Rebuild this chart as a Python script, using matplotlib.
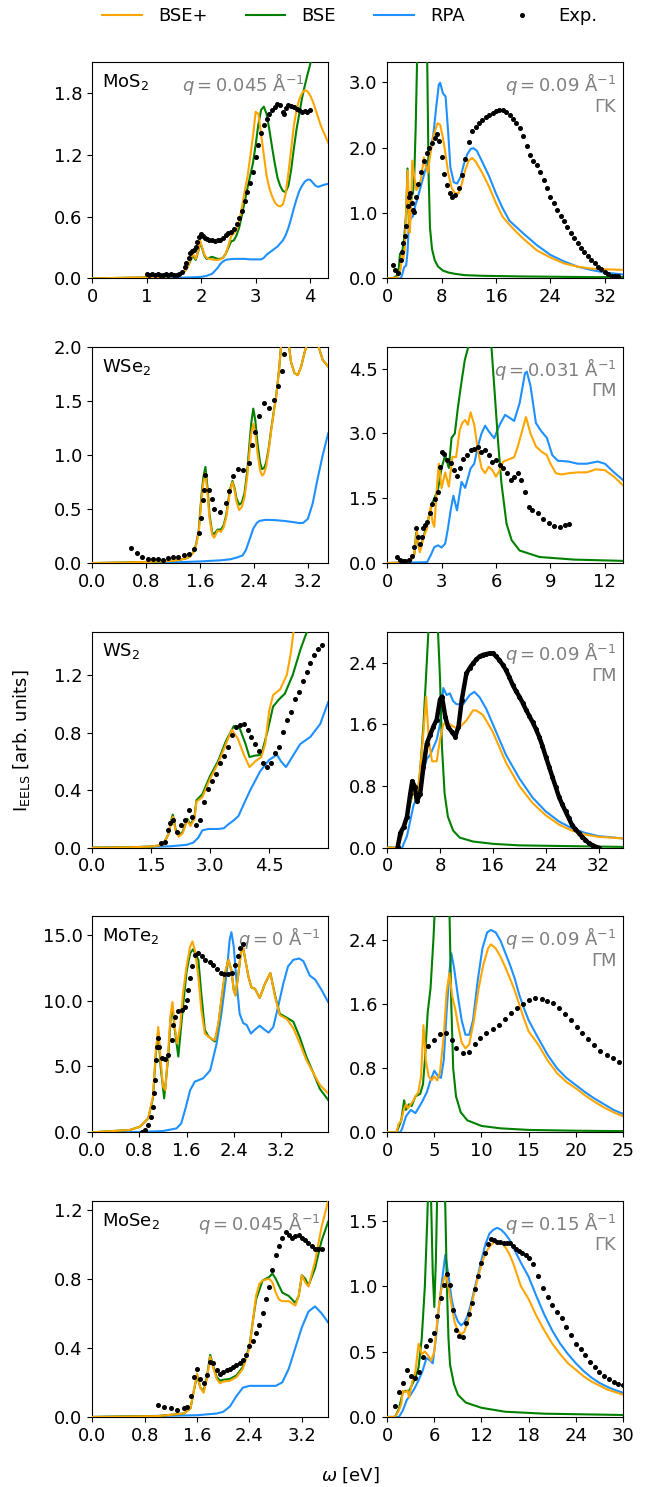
import matplotlib
matplotlib.use("Agg")
import matplotlib.pyplot as plt
from matplotlib.lines import Line2D
import numpy as np

# ---------------- MoS2 left ----------------
MOS2L_EXP_X = [1.0,1.05,1.1,1.15,1.2,1.25,1.3,1.35,1.4,1.45,1.5,1.55,1.6,1.65,1.7,1.73,1.77,1.8,1.83,1.86,1.9,1.93,1.96,2.0,2.03,2.07,2.1,2.15,2.2,2.25,2.3,2.35,2.4,2.45,2.5,2.55,2.6,2.65,2.7,2.75,2.8,2.85,2.9,2.95,3.0,3.05,3.1,3.15,3.2,3.25,3.3,3.35,3.4,3.45,3.5,3.52,3.55,3.6,3.65,3.7,3.75,3.8,3.85,3.9,3.95,4.0]
MOS2L_EXP_Y = [0.04,0.035,0.04,0.03,0.04,0.035,0.03,0.04,0.03,0.04,0.03,0.03,0.04,0.06,0.11,0.15,0.2,0.25,0.27,0.28,0.31,0.35,0.40,0.43,0.41,0.39,0.38,0.37,0.37,0.36,0.37,0.37,0.39,0.42,0.44,0.45,0.48,0.53,0.59,0.66,0.75,0.84,0.93,1.03,1.18,1.30,1.41,1.49,1.55,1.60,1.64,1.67,1.70,1.69,1.62,1.60,1.66,1.69,1.68,1.67,1.65,1.64,1.62,1.63,1.62,1.64]
MOS2L_BSEP_X = [0,0.5,1.0,1.3,1.5,1.6,1.7,1.75,1.8,1.85,1.9,1.95,1.98,2.02,2.06,2.1,2.15,2.2,2.25,2.3,2.35,2.4,2.45,2.5,2.55,2.6,2.65,2.7,2.75,2.8,2.85,2.9,2.95,3.0,3.05,3.1,3.15,3.2,3.25,3.3,3.35,3.4,3.45,3.5,3.55,3.6,3.65,3.7,3.75,3.8,3.85,3.9,3.95,4.0,4.05,4.1,4.15,4.2,4.25,4.33]
MOS2L_BSEP_Y = [0,0.005,0.01,0.015,0.025,0.04,0.07,0.11,0.18,0.24,0.19,0.28,0.37,0.3,0.23,0.2,0.19,0.185,0.18,0.18,0.185,0.2,0.24,0.32,0.41,0.44,0.47,0.56,0.7,0.85,0.99,1.18,1.38,1.62,1.6,1.4,1.2,1.0,0.88,0.8,0.74,0.71,0.70,0.72,0.82,1.02,1.25,1.48,1.64,1.74,1.8,1.83,1.82,1.78,1.72,1.64,1.56,1.48,1.42,1.32]
MOS2L_BSE_X = [0,0.5,1.0,1.3,1.5,1.6,1.7,1.75,1.8,1.85,1.9,1.95,1.98,2.02,2.06,2.1,2.15,2.2,2.25,2.3,2.35,2.4,2.45,2.5,2.55,2.6,2.65,2.7,2.75,2.8,2.85,2.9,2.95,3.0,3.05,3.1,3.15,3.2,3.25,3.3,3.35,3.4,3.45,3.5,3.55,3.6,3.65,3.7,3.75,3.8,3.85,3.9,3.95,4.0,4.05,4.1]
MOS2L_BSE_Y = [0,0.005,0.01,0.015,0.025,0.04,0.07,0.11,0.17,0.22,0.18,0.27,0.35,0.29,0.22,0.19,0.2,0.21,0.2,0.19,0.19,0.2,0.24,0.3,0.36,0.37,0.42,0.5,0.62,0.75,0.88,1.0,1.12,1.3,1.5,1.64,1.67,1.6,1.45,1.28,1.12,0.98,0.9,0.85,0.84,0.9,1.05,1.26,1.45,1.6,1.75,1.87,1.98,2.08,2.2,2.3]
MOS2L_RPA_X = [0,1.0,1.5,1.8,2.0,2.1,2.2,2.3,2.35,2.4,2.45,2.5,2.6,2.7,2.8,2.9,3.0,3.1,3.15,3.2,3.25,3.3,3.35,3.4,3.45,3.5,3.55,3.6,3.65,3.7,3.75,3.8,3.85,3.9,3.95,4.0,4.05,4.1,4.15,4.2,4.25,4.33]
MOS2L_RPA_Y = [0,0.002,0.005,0.01,0.015,0.025,0.045,0.1,0.14,0.165,0.18,0.185,0.19,0.19,0.19,0.185,0.185,0.185,0.2,0.23,0.25,0.27,0.29,0.31,0.34,0.37,0.42,0.49,0.58,0.68,0.77,0.85,0.9,0.94,0.96,0.96,0.93,0.90,0.89,0.90,0.91,0.92]

# ---------------- MoS2 right ----------------
MOS2R_EXP_X = [0.8,1.2,1.6,2.0,2.2,2.4,2.6,2.8,3.0,3.2,3.4,3.6,3.8,4.0,4.3,4.6,5.0,5.4,5.8,6.2,6.6,7.0,7.3,7.6,8.0,8.4,8.8,9.2,9.6,10.0,10.5,11.0,11.5,12.0,12.5,13.0,13.5,14.0,14.5,15.0,15.5,16.0,16.5,17.0,17.5,18.0,18.5,19.0,19.5,20.0,20.5,21.0,21.5,22.0,22.5,23.0,23.5,24.0,24.5,25.0,25.5,26.0,26.5,27.0,27.5,28.0,28.5,29.0,29.5,30.0,30.5,31.0,31.5,32.0,32.5,33.0,33.5,34.0]
MOS2R_EXP_Y = [0.2,0.13,0.09,0.28,0.4,0.54,0.65,0.8,1.1,1.25,1.3,1.15,1.05,1.02,1.25,1.45,1.62,1.8,1.92,2.0,2.07,2.14,2.2,2.1,1.85,1.6,1.42,1.3,1.24,1.27,1.38,1.58,1.82,2.08,2.26,2.32,2.38,2.42,2.46,2.50,2.53,2.56,2.58,2.58,2.55,2.50,2.43,2.38,2.3,2.17,2.03,1.89,1.80,1.73,1.62,1.51,1.38,1.25,1.15,1.05,0.96,0.87,0.78,0.69,0.61,0.54,0.47,0.41,0.34,0.28,0.23,0.18,0.14,0.10,0.07,0.04,0.03,0.03]
MOS2R_BSEP_X = [0,1.0,1.5,1.8,2.0,2.2,2.4,2.6,2.8,2.95,3.05,3.15,3.3,3.5,3.7,4.0,4.3,4.6,5.0,5.4,5.8,6.0,6.3,6.8,7.4,7.8,8.2,8.5,9.0,9.5,10.0,10.5,11.0,11.5,12.0,12.5,13.0,14.0,15.0,16.0,17.0,18.0,19.0,20.0,22.0,24.0,26.0,28.0,30.0,32.0,34.7]
MOS2R_BSEP_Y = [0,0.005,0.02,0.08,0.15,0.38,0.3,0.45,1.0,1.5,1.65,1.2,0.7,1.0,1.8,1.56,1.35,1.40,1.52,1.85,1.66,1.62,1.86,2.17,2.37,2.35,2.15,1.96,1.6,1.38,1.30,1.30,1.45,1.66,1.80,1.84,1.79,1.61,1.40,1.15,0.94,0.82,0.71,0.61,0.43,0.32,0.23,0.18,0.15,0.14,0.13]
MOS2R_BSE_X = [0,1.0,1.5,1.7,1.9,2.2,2.5,2.8,3.0,3.2,3.4,3.6,3.8,4.0,4.2,4.4,4.8,5.2,5.6,5.9,6.1,6.3,6.6,7.0,7.5,8.2,9.0,10.0,11.4,14.0,20.0,25.0,30.0,34.7]
MOS2R_BSE_Y = [0,0.01,0.05,0.15,0.38,0.4,0.6,1.0,1.68,0.84,1.0,1.25,1.3,1.6,2.3,3.3,5.0,6.0,5.0,3.3,1.6,0.78,0.45,0.28,0.18,0.12,0.09,0.07,0.05,0.04,0.03,0.025,0.02,0.02]
MOS2R_RPA_X = [0,2.0,2.2,2.5,2.8,3.0,3.2,3.5,3.8,4.1,4.4,4.8,5.2,5.6,6.0,6.4,6.8,7.2,7.6,7.8,8.2,8.6,9.0,9.3,9.8,10.3,10.8,11.3,11.8,12.3,12.7,13.2,14.0,15.0,16.0,17.0,18.0,20.0,22.0,24.0,26.0,28.0,30.0,32.0,34.7]
MOS2R_RPA_Y = [0,0.0,0.05,0.17,0.2,0.4,0.84,0.92,0.95,1.1,1.2,1.35,1.5,1.65,1.8,1.95,2.2,2.6,2.96,2.99,2.83,2.78,2.2,1.7,1.47,1.45,1.55,1.75,1.9,1.98,1.99,1.95,1.78,1.56,1.30,1.07,0.88,0.69,0.51,0.36,0.26,0.18,0.13,0.09,0.06]

# ---------------- WSe2 left ----------------
WSE2L_EXP_X = [0.58,0.666,0.74,0.83,0.90,0.976,1.05,1.13,1.20,1.28,1.36,1.44,1.51,1.59,1.62,1.65,1.66,1.68,1.73,1.77,1.81,1.90,1.99,2.03,2.09,2.16,2.23,2.32,2.37,2.42,2.48,2.55,2.63,2.70,2.76,2.81,2.85]
WSE2L_EXP_Y = [0.14,0.093,0.06,0.04,0.04,0.04,0.03,0.05,0.055,0.055,0.07,0.086,0.13,0.28,0.42,0.58,0.68,0.82,0.68,0.59,0.50,0.47,0.56,0.67,0.81,0.87,0.86,0.93,1.09,1.21,1.36,1.48,1.44,1.51,1.64,1.78,1.94]
WSE2L_BSEP_X = [0,0.4,0.8,1.0,1.2,1.3,1.4,1.45,1.5,1.54,1.58,1.62,1.65,1.68,1.71,1.74,1.78,1.81,1.86,1.91,1.95,1.99,2.04,2.08,2.11,2.14,2.18,2.22,2.26,2.3,2.33,2.36,2.39,2.42,2.45,2.49,2.52,2.55,2.58,2.62,2.66,2.7,2.73,2.77,2.8,2.85,2.9,2.95,3.0,3.05,3.1,3.15,3.2,3.28,3.36,3.42,3.5]
WSE2L_BSEP_Y = [0,0.004,0.01,0.015,0.022,0.03,0.045,0.06,0.1,0.16,0.28,0.58,0.75,0.83,0.65,0.42,0.26,0.235,0.3,0.29,0.33,0.43,0.65,0.75,0.68,0.57,0.49,0.52,0.61,0.8,1.01,1.2,1.29,1.2,1.03,0.86,0.81,0.83,0.89,1.05,1.25,1.42,1.54,1.78,2.0,2.2,2.1,1.86,1.76,1.74,1.82,1.95,2.05,2.2,2.0,1.88,1.82]
WSE2L_BSE_X = [0,0.4,0.8,1.0,1.2,1.3,1.4,1.45,1.5,1.54,1.58,1.62,1.65,1.68,1.71,1.74,1.78,1.81,1.86,1.91,1.95,1.99,2.04,2.08,2.11,2.14,2.18,2.22,2.26,2.3,2.33,2.36,2.39,2.42,2.45,2.49,2.52,2.55,2.58,2.62,2.66,2.7,2.73,2.77,2.8,2.85,2.9,2.95,3.0,3.05,3.1,3.15,3.2,3.28,3.36,3.42,3.5]
WSE2L_BSE_Y = [0,0.004,0.01,0.015,0.022,0.03,0.045,0.06,0.1,0.17,0.3,0.62,0.8,0.89,0.7,0.45,0.28,0.27,0.31,0.31,0.35,0.45,0.67,0.76,0.7,0.6,0.54,0.56,0.65,0.85,1.08,1.3,1.43,1.32,1.12,0.93,0.87,0.88,0.93,1.07,1.26,1.43,1.55,1.78,2.0,2.2,2.1,1.86,1.76,1.74,1.82,1.95,2.05,2.2,2.0,1.88,1.82]
WSE2L_RPA_X = [0,0.8,1.2,1.6,1.9,2.05,2.14,2.23,2.28,2.33,2.39,2.44,2.48,2.57,2.7,2.85,2.97,3.08,3.13,3.2,3.27,3.34,3.42,3.5]
WSE2L_RPA_Y = [0,0.003,0.006,0.015,0.025,0.035,0.05,0.07,0.12,0.21,0.32,0.37,0.39,0.40,0.398,0.39,0.38,0.37,0.372,0.41,0.55,0.77,1.0,1.2]

# ---------------- WSe2 right ----------------
WSE2R_EXP_X = [0.55,0.7,0.85,1.0,1.2,1.35,1.5,1.6,1.7,1.8,1.9,2.0,2.1,2.2,2.35,2.5,2.65,2.8,2.9,3.0,3.15,3.3,3.5,3.7,3.85,4.0,4.2,4.4,4.6,4.8,5.0,5.2,5.4,5.6,5.8,6.0,6.2,6.4,6.6,6.8,7.0,7.2,7.4,7.6,7.8,8.0,8.3,8.6,8.9,9.2,9.5,9.8,10.0]
WSE2R_EXP_Y = [0.14,0.08,0.04,0.04,0.06,0.16,0.37,0.8,0.6,0.45,0.6,0.8,0.88,0.94,1.15,1.36,1.49,1.65,2.23,2.58,2.52,2.39,2.31,2.15,2.02,2.19,2.42,2.5,2.62,2.63,2.68,2.58,2.62,2.5,2.35,2.39,2.27,2.19,2.08,1.92,2.0,2.08,1.92,1.65,1.30,1.22,1.15,1.03,0.93,0.85,0.84,0.88,0.91]
WSE2R_BSEP_X = [0,1.0,1.3,1.5,1.6,1.65,1.7,1.8,1.9,2.0,2.2,2.3,2.4,2.5,2.6,2.75,2.85,3.0,3.2,3.4,3.6,3.8,4.0,4.15,4.3,4.45,4.6,4.8,5.0,5.2,5.4,5.6,5.8,6.0,6.2,6.4,6.7,7.0,7.2,7.4,7.65,7.9,8.2,8.5,8.8,9.0,9.3,9.6,10.0,10.5,11.0,11.5,12.0,12.5,13.0]
WSE2R_BSEP_Y = [0,0.01,0.05,0.2,0.6,0.75,0.5,0.25,0.4,0.6,0.8,1.1,1.3,0.95,0.84,1.8,2.3,1.73,2.1,1.77,2.46,2.45,3.08,3.25,3.31,3.2,3.49,3.2,2.62,2.2,2.08,2.23,2.15,2.0,2.15,2.35,2.4,2.45,2.7,3.0,3.38,3.0,2.7,2.58,2.5,2.3,2.08,2.05,2.08,2.1,2.1,2.17,2.15,2.0,1.80]
WSE2R_BSE_X = [0,1.0,1.3,1.5,1.6,1.7,1.8,2.0,2.2,2.5,2.8,3.0,3.2,3.4,3.55,3.73,3.9,4.1,4.28,4.47,4.8,5.2,5.5,5.75,5.94,6.12,6.3,6.58,6.86,7.3,8.4,10.3,13.0]
WSE2R_BSE_Y = [0,0.01,0.05,0.2,0.7,0.45,0.3,0.6,0.9,1.4,1.7,2.2,2.5,2.2,2.9,3.0,3.6,4.2,4.7,5.0,5.6,5.8,5.5,5.0,3.86,2.77,1.84,0.91,0.53,0.29,0.14,0.08,0.05]
WSE2R_RPA_X = [0,2.2,2.4,2.6,2.8,3.0,3.2,3.35,3.5,3.65,3.85,4.1,4.3,4.6,4.8,5.0,5.2,5.4,5.6,5.9,6.2,6.5,6.8,7.0,7.3,7.6,7.7,7.9,8.2,8.5,8.8,9.1,9.4,10.0,10.5,11.0,11.6,12.0,12.5,13.0]
WSE2R_RPA_Y = [0,0.02,0.18,0.37,0.41,0.36,0.45,0.8,1.22,1.56,1.22,1.88,1.74,2.19,2.3,2.7,3.0,3.18,3.05,2.89,3.2,3.43,3.35,3.29,3.7,4.40,4.43,4.1,3.24,3.05,2.9,2.5,2.37,2.35,2.3,2.3,2.35,2.3,2.1,1.92]

# ---------------- WS2 left ----------------
WS2L_EXP_X = [1.75,1.85,1.92,1.98,2.05,2.15,2.25,2.35,2.45,2.55,2.65,2.75,2.85,2.95,3.05,3.15,3.25,3.35,3.45,3.55,3.65,3.75,3.85,3.95,4.05,4.15,4.25,4.35,4.45,4.55,4.65,4.75,4.85,4.95,5.05,5.15,5.25,5.35,5.45,5.55,5.65,5.75,5.85]
WS2L_EXP_Y = [0.03,0.04,0.12,0.17,0.19,0.11,0.157,0.19,0.26,0.215,0.16,0.19,0.32,0.41,0.46,0.51,0.585,0.64,0.70,0.78,0.84,0.85,0.86,0.82,0.77,0.72,0.67,0.585,0.56,0.585,0.655,0.70,0.805,0.89,0.94,1.03,1.08,1.16,1.22,1.28,1.34,1.38,1.41]
WS2L_BSEP_X = [0,1.0,1.5,1.8,1.95,2.0,2.05,2.12,2.2,2.3,2.42,2.5,2.6,2.65,2.8,3.0,3.2,3.4,3.55,3.7,3.85,4.0,4.15,4.3,4.4,4.5,4.6,4.78,4.95,5.05,5.12,5.2]
WS2L_BSEP_Y = [0,0.003,0.008,0.02,0.1,0.17,0.215,0.12,0.076,0.1,0.19,0.15,0.2,0.32,0.35,0.48,0.585,0.72,0.82,0.76,0.65,0.56,0.6,0.63,0.72,0.95,1.06,1.1,1.2,1.35,1.5,1.65]
WS2L_BSE_X = [0,1.0,1.5,1.8,1.95,2.0,2.05,2.12,2.2,2.3,2.42,2.5,2.6,2.65,2.8,3.0,3.2,3.4,3.6,3.75,3.9,4.0,4.15,4.3,4.45,4.6,4.75,4.9,5.1,5.3,5.46,5.55]
WS2L_BSE_Y = [0,0.003,0.008,0.02,0.1,0.18,0.23,0.13,0.085,0.11,0.2,0.16,0.21,0.33,0.37,0.5,0.6,0.74,0.845,0.83,0.72,0.63,0.64,0.645,0.8,0.98,1.03,1.07,1.2,1.38,1.5,1.6]
WS2L_RPA_X = [0,1.0,2.0,2.4,2.57,2.7,2.8,2.95,3.2,3.35,3.45,3.6,3.72,3.85,4.02,4.27,4.5,4.7,4.8,4.93,5.12,5.29,5.55,5.8,6.0]
WS2L_RPA_Y = [0,0.003,0.01,0.02,0.035,0.07,0.12,0.13,0.13,0.135,0.16,0.19,0.22,0.3,0.40,0.53,0.61,0.645,0.6,0.56,0.645,0.72,0.77,0.86,1.01]

# ---------------- WS2 right ----------------
WS2R_EXP_X = [1.6,2.0,2.5,3.0,3.5,3.8,4.2,4.5,5.0,5.5,6.0,6.5,7.0,7.5,8.0,8.3,8.8,9.2,9.8,10.3,10.8,11.3,12.0,12.5,13.0,13.5,14.0,14.5,15.0,15.5,16.0,16.5,17.0,17.5,18.0,18.5,19.0,19.5,20.0,20.5,21.0,21.5,22.0,22.5,23.0,23.5,24.0,24.5,25.0,25.5,26.0,26.5,27.0,27.5,28.0,28.5,29.0,29.5,30.0,30.5,31.0,31.5,32.0]
WS2R_EXP_Y = [0.01,0.19,0.27,0.4,0.7,0.86,0.79,0.6,0.70,1.05,1.35,1.46,1.57,1.66,1.92,1.96,1.70,1.57,1.50,1.44,1.57,1.92,2.26,2.33,2.39,2.44,2.48,2.50,2.51,2.52,2.52,2.48,2.43,2.37,2.30,2.21,2.11,2.03,1.96,1.88,1.79,1.71,1.63,1.54,1.44,1.32,1.18,1.05,0.92,0.79,0.66,0.56,0.47,0.38,0.29,0.24,0.19,0.14,0.10,0.06,0.035,0.015,0.0]
WS2R_BSEP_X = [0,1.5,2.0,2.5,3.0,3.5,4.0,4.5,5.0,5.5,5.9,6.3,6.8,7.5,8.0,8.5,9.0,9.8,10.5,11.2,12.0,13.0,13.5,14.5,16.0,18.0,20.0,22.0,24.0,26.0,28.0,30.0,32.0,35.7]
WS2R_BSEP_Y = [0,0.0,0.1,0.25,0.4,0.6,0.75,0.6,1.0,1.5,1.96,1.4,1.12,1.12,1.4,1.6,1.63,1.58,1.55,1.58,1.65,1.78,1.78,1.72,1.5,1.1,0.8,0.58,0.42,0.3,0.22,0.17,0.14,0.12]
WS2R_BSE_X = [0,1.5,2.0,3.0,4.0,4.5,5.0,5.5,6.0,6.3,6.8,7.2,7.7,8.0,8.3,8.7,9.2,10.0,11.0,13.0,16.0,20.0,35.7]
WS2R_BSE_Y = [0,0.0,0.1,0.4,0.75,0.6,1.0,1.6,2.4,2.9,3.5,3.4,2.8,2.2,1.3,0.7,0.4,0.22,0.13,0.08,0.05,0.03,0.01]
WS2R_RPA_X = [0,2.3,2.5,3.0,3.5,4.0,4.5,5.0,5.5,6.0,6.5,7.0,7.5,8.0,8.5,9.0,9.5,10.0,10.5,11.5,12.5,13.2,14.0,15.0,16.0,18.0,20.0,22.0,24.0,26.0,28.0,30.0,32.0,35.7]
WS2R_RPA_Y = [0,0.0,0.05,0.15,0.35,0.55,0.65,0.9,1.0,1.15,1.2,1.3,1.4,1.6,2.07,1.98,2.0,1.9,1.86,1.86,1.98,2.02,1.95,1.8,1.6,1.2,0.9,0.65,0.47,0.34,0.25,0.19,0.15,0.12]

# ---------------- MoTe2 left ----------------
MOTE2L_EXP_X = [0.85,0.90,0.95,0.995,1.03,1.046,1.063,1.08,1.10,1.11,1.136,1.176,1.23,1.29,1.345,1.37,1.41,1.46,1.515,1.566,1.60,1.63,1.656,1.696,1.74,1.79,1.854,1.92,1.99,2.05,2.11,2.18,2.24,2.31,2.37,2.42,2.47,2.51,2.56]
MOTE2L_EXP_Y = [0.0,0.18,0.56,1.19,1.95,2.96,3.97,5.49,6.5,7.14,6.5,5.62,5.54,5.87,7.0,8.15,8.73,9.24,9.29,9.54,10.05,10.8,11.7,12.6,13.5,13.6,13.4,13.1,12.96,12.7,12.4,12.1,12.0,12.0,12.1,12.7,13.4,13.97,14.3]
MOTE2L_BSEP_X = [0,0.64,0.81,0.95,1.03,1.08,1.12,1.16,1.2,1.24,1.29,1.33,1.36,1.40,1.44,1.49,1.54,1.6,1.66,1.7,1.74,1.8,1.85,1.91,1.97,2.02,2.08,2.14,2.19,2.25,2.31,2.36,2.4,2.43,2.48,2.52,2.56,2.6,2.65,2.7,2.76,2.84,2.93,3.02,3.1,3.18,3.3,3.41,3.52,3.63,3.75,3.86,4.0]
MOTE2L_BSEP_Y = [0,0.18,0.43,1.06,2.7,6.25,8.0,5.5,3.5,3.2,6.25,9.0,9.9,8.0,6.75,8.0,10.55,12.6,14.1,14.5,13.85,11.8,9.3,7.5,7.27,7.1,7.0,8.3,10.05,12.1,13.1,12.3,10.8,10.4,12.1,13.6,14.0,13.0,11.8,11.0,10.9,10.2,11.3,12.1,10.3,8.9,8.6,7.9,6.75,5.5,4.5,3.6,2.96]
MOTE2L_BSE_X = [0,0.64,0.81,0.95,1.03,1.08,1.12,1.16,1.22,1.29,1.33,1.36,1.40,1.46,1.54,1.6,1.66,1.71,1.8,1.85,1.91,1.97,2.02,2.08,2.14,2.19,2.25,2.31,2.36,2.4,2.43,2.48,2.52,2.56,2.6,2.65,2.7,2.76,2.84,2.93,3.02,3.1,3.18,3.3,3.41,3.52,3.63,3.75,3.86,4.0]
MOTE2L_BSE_Y = [0,0.18,0.43,1.06,2.6,6.0,7.6,5.0,2.58,5.8,8.7,9.5,7.8,5.75,9.6,12.2,13.6,13.9,13.1,10.5,7.77,7.3,7.1,6.9,8.2,10.0,12.0,13.1,12.3,10.8,10.4,12.1,13.6,14.0,13.0,11.8,11.0,10.9,10.2,11.3,12.1,10.4,9.0,8.7,8.4,7.2,5.75,4.5,3.3,2.46]
MOTE2L_RPA_X = [0,0.8,1.2,1.43,1.51,1.59,1.66,1.74,1.88,2.0,2.11,2.19,2.28,2.33,2.36,2.4,2.45,2.5,2.56,2.62,2.69,2.76,2.84,2.92,2.99,3.07,3.15,3.24,3.32,3.41,3.51,3.58,3.69,3.78,3.89,4.0]
MOTE2L_RPA_Y = [0,0.03,0.1,0.3,0.68,1.95,3.2,3.85,4.1,4.7,6.75,9.0,12.1,14.6,15.2,14.1,11.3,9.0,8.3,8.15,7.5,7.8,8.1,7.8,7.57,8.0,9.5,11.3,12.6,13.1,13.2,13.0,11.9,11.6,10.8,9.9]

# ---------------- MoTe2 right ----------------
MOTE2R_EXP_X = [4.31,4.98,5.58,6.22,6.86,7.35,7.99,8.66,9.29,9.89,10.53,11.24,11.87,12.51,13.14,13.78,14.42,15.05,15.72,16.36,16.96,17.6,18.23,18.87,19.47,20.07,20.67,21.31,21.94,22.54,23.25,23.89,24.59]
MOTE2R_EXP_Y = [1.085,1.156,1.227,1.248,1.156,1.05,0.997,1.01,1.11,1.185,1.24,1.29,1.34,1.415,1.49,1.55,1.61,1.65,1.68,1.665,1.645,1.615,1.56,1.48,1.40,1.32,1.24,1.165,1.09,1.02,0.97,0.93,0.885]
MOTE2R_BSEP_X = [0,1.0,1.2,1.5,1.8,2.0,2.2,2.5,2.8,3.0,3.3,3.6,3.85,4.1,4.4,4.7,5.0,5.3,5.6,6.0,6.3,6.6,6.9,7.2,7.5,7.9,8.3,8.7,9.2,9.7,10.2,10.7,11.0,11.5,12.0,12.5,13.0,13.5,14.0,14.5,15.0,16.0,17.0,18.0,19.0,20.0,21.0,22.0,23.0,24.0,25.0]
MOTE2R_BSEP_Y = [0,0.0,0.1,0.15,0.3,0.35,0.3,0.35,0.4,0.45,0.5,0.7,1.34,0.9,0.7,0.65,0.7,0.65,0.75,1.2,1.75,1.99,1.7,1.55,1.35,1.12,1.05,1.1,1.4,1.8,2.1,2.3,2.35,2.3,2.2,2.07,1.93,1.78,1.6,1.42,1.26,1.1,0.9,0.74,0.63,0.55,0.46,0.38,0.31,0.25,0.2]
MOTE2R_BSE_X = [0,1.0,1.5,1.8,2.0,2.3,2.6,3.0,3.5,3.8,4.0,4.3,4.6,4.9,5.1,5.6,6.2,6.6,6.8,7.0,7.3,7.8,8.5,10.0,12.0,15.0,20.0,25.0]
MOTE2R_BSE_Y = [0,0.0,0.15,0.4,0.28,0.35,0.33,0.45,0.48,0.6,0.9,1.5,1.8,2.4,2.9,3.6,3.8,2.8,1.6,0.8,0.45,0.25,0.15,0.08,0.05,0.03,0.02,0.015]
MOTE2R_RPA_X = [0,1.4,1.6,2.0,2.5,3.0,3.3,3.7,4.2,4.6,5.0,5.4,5.7,6.0,6.3,6.6,6.8,7.1,7.5,7.9,8.3,8.7,9.1,9.6,10.1,10.6,11.0,11.5,12.0,12.5,13.0,13.5,14.0,14.5,15.0,16.0,17.0,18.0,19.0,20.0,21.0,22.0,23.0,24.0,25.0]
MOTE2R_RPA_Y = [0,0.0,0.05,0.2,0.28,0.24,0.3,0.38,0.5,0.65,0.77,0.7,0.68,0.9,1.5,2.0,2.24,2.05,1.7,1.4,1.22,1.22,1.4,1.9,2.3,2.5,2.53,2.5,2.4,2.25,2.1,1.93,1.72,1.55,1.4,1.18,0.97,0.8,0.68,0.59,0.5,0.42,0.35,0.28,0.23]

# ---------------- MoSe2 left ----------------
MOSE2L_EXP_X = [1.0,1.1,1.2,1.3,1.4,1.45,1.5,1.55,1.6,1.65,1.7,1.75,1.8,1.85,1.9,1.95,2.0,2.05,2.1,2.15,2.2,2.25,2.3,2.35,2.4,2.45,2.5,2.55,2.6,2.65,2.7,2.75,2.8,2.85,2.9,2.95,3.0,3.05,3.1,3.15,3.2,3.25,3.3,3.35,3.4,3.45,3.5]
MOSE2L_EXP_Y = [0.07,0.06,0.05,0.04,0.05,0.06,0.12,0.23,0.28,0.22,0.195,0.24,0.32,0.31,0.27,0.25,0.26,0.27,0.28,0.29,0.30,0.31,0.33,0.36,0.41,0.44,0.485,0.53,0.60,0.68,0.755,0.85,0.94,0.99,1.035,1.07,1.055,1.035,1.045,1.055,1.035,1.025,1.005,0.99,0.97,0.97,0.97]
MOSE2L_BSEP_X = [0,1.0,1.4,1.5,1.55,1.6,1.65,1.7,1.75,1.8,1.85,1.9,1.95,2.0,2.1,2.2,2.3,2.4,2.45,2.5,2.55,2.6,2.7,2.75,2.8,2.85,2.9,3.0,3.1,3.15,3.2,3.25,3.3,3.4,3.5,3.6]
MOSE2L_BSEP_Y = [0,0.005,0.02,0.05,0.15,0.25,0.17,0.14,0.22,0.35,0.28,0.22,0.195,0.205,0.21,0.23,0.28,0.40,0.55,0.70,0.77,0.79,0.80,0.78,0.72,0.68,0.67,0.67,0.645,0.70,0.82,0.78,0.755,0.9,1.1,1.25]
MOSE2L_BSE_X = [0,1.0,1.4,1.5,1.55,1.6,1.65,1.7,1.75,1.8,1.85,1.9,1.95,2.0,2.1,2.2,2.3,2.4,2.45,2.5,2.6,2.7,2.75,2.8,2.9,3.0,3.1,3.15,3.2,3.25,3.3,3.4,3.5,3.6]
MOSE2L_BSE_Y = [0,0.005,0.02,0.05,0.15,0.24,0.17,0.15,0.23,0.36,0.29,0.23,0.21,0.215,0.22,0.24,0.29,0.41,0.55,0.68,0.79,0.81,0.83,0.80,0.72,0.70,0.66,0.70,0.82,0.80,0.76,0.86,1.02,1.13]
MOSE2L_RPA_X = [0,1.6,1.9,2.0,2.1,2.2,2.3,2.4,2.6,2.8,2.9,3.0,3.1,3.2,3.3,3.4,3.5,3.6]
MOSE2L_RPA_Y = [0,0.01,0.02,0.03,0.06,0.12,0.17,0.18,0.18,0.18,0.2,0.28,0.4,0.52,0.61,0.64,0.6,0.547]

# ---------------- MoSe2 right ----------------
MOSE2R_EXP_X = [1.0,1.5,2.0,2.5,3.0,3.5,4.0,4.5,5.0,5.5,6.0,6.4,6.8,7.2,7.6,8.0,8.4,8.8,9.2,9.6,10.0,10.4,10.8,11.2,11.6,12.0,12.4,12.8,13.2,13.6,14.0,14.4,14.8,15.2,15.6,16.0,16.4,16.8,17.2,17.6,18.0,18.6,19.2,19.8,20.4,21.0,21.6,22.2,22.8,23.4,24.0,24.6,25.2,25.8,26.4,27.0,27.6,28.2,28.8,29.4,30.0]
MOSE2R_EXP_Y = [0.08,0.19,0.26,0.36,0.31,0.30,0.345,0.46,0.54,0.59,0.64,0.77,0.91,1.01,1.09,1.01,0.82,0.665,0.62,0.61,0.72,0.79,0.87,0.98,1.08,1.18,1.25,1.32,1.36,1.355,1.34,1.34,1.33,1.33,1.33,1.31,1.28,1.27,1.25,1.235,1.215,1.17,1.08,0.985,0.915,0.857,0.805,0.754,0.69,0.63,0.56,0.517,0.47,0.42,0.384,0.345,0.315,0.29,0.27,0.25,0.243]
MOSE2R_BSEP_X = [0,1.0,1.5,1.8,2.0,2.3,2.6,2.8,3.2,3.6,4.0,4.4,4.8,5.2,5.6,6.0,6.4,6.8,7.2,7.5,7.8,8.2,8.6,9.0,9.4,9.8,10.2,10.6,11.0,11.5,12.0,12.5,13.0,13.5,14.0,14.5,15.0,15.5,16.0,17.0,17.5,18.0,19.0,20.0,21.0,22.0,23.0,24.0,25.0,26.0,27.0,28.0,29.0,30.0]
MOSE2R_BSEP_Y = [0,0.0,0.05,0.1,0.2,0.19,0.2,0.15,0.27,0.35,0.56,0.48,0.5,0.47,0.43,0.5,0.75,0.95,1.05,1.09,0.99,0.85,0.72,0.66,0.63,0.65,0.72,0.82,0.93,1.05,1.17,1.25,1.30,1.33,1.34,1.33,1.3,1.25,1.18,1.0,0.95,0.9,0.77,0.66,0.56,0.48,0.41,0.36,0.31,0.27,0.24,0.21,0.19,0.17]
MOSE2R_BSE_X = [0,1.0,1.5,2.0,2.4,2.8,3.2,3.6,4.0,4.4,4.8,5.1,5.3,5.5,5.8,6.0,6.2,6.4,6.8,7.2,7.4,7.6,7.8,8.0,8.5,9.0,10.0,12.0,15.0,20.0,30.0]
MOSE2R_BSE_Y = [0,0.0,0.06,0.19,0.2,0.2,0.25,0.3,0.38,0.6,1.0,1.5,1.9,1.9,1.1,0.84,1.2,1.8,2.2,2.0,1.6,1.0,0.6,0.4,0.25,0.17,0.11,0.07,0.04,0.025,0.015]
MOSE2R_RPA_X = [0,1.5,2.0,2.5,3.0,3.5,4.0,4.5,5.0,5.5,5.8,6.2,6.6,7.0,7.4,7.8,8.2,8.6,9.0,9.4,9.8,10.2,10.6,11.0,11.5,12.0,12.5,13.0,13.5,14.0,14.5,15.0,15.5,16.0,17.0,18.0,19.0,20.0,21.0,22.0,23.0,24.0,25.0,26.0,27.0,28.0,29.0,30.0]
MOSE2R_RPA_Y = [0,0.0,0.05,0.13,0.17,0.22,0.28,0.35,0.45,0.43,0.41,0.6,0.85,1.05,1.24,1.08,0.9,0.79,0.73,0.70,0.72,0.77,0.85,0.95,1.07,1.2,1.32,1.40,1.43,1.445,1.43,1.4,1.36,1.3,1.18,1.07,0.92,0.78,0.66,0.56,0.48,0.41,0.35,0.30,0.26,0.23,0.205,0.185]

# ---------------- panel settings ----------------
MATERIALS = ["MoS$_2$", "WSe$_2$", "WS$_2$", "MoTe$_2$", "MoSe$_2$"]
LEFT_Q = ["$q = 0.045$ Å$^{-1}$", None, None, "$q = 0$ Å$^{-1}$", "$q = 0.045$ Å$^{-1}$"]
RIGHT_Q = ["$q = 0.09$ Å$^{-1}$\nΓK", "$q = 0.031$ Å$^{-1}$\nΓM", "$q = 0.09$ Å$^{-1}$\nΓM",
           "$q = 0.09$ Å$^{-1}$\nΓM", "$q = 0.15$ Å$^{-1}$\nΓK"]

LEFT_XLIM = [4.33, 3.5, 6.0, 4.0, 3.6]
LEFT_YLIM = [2.1, 2.0, 1.5, 16.4, 1.25]
RIGHT_XLIM = [34.7, 13.0, 35.7, 25.0, 30.0]
RIGHT_YLIM = [3.3, 5.0, 2.8, 2.7, 1.65]

LEFT_XTICKS = [[0, 1, 2, 3, 4], [0, 0.8, 1.6, 2.4, 3.2], [0, 1.5, 3.0, 4.5],
               [0, 0.8, 1.6, 2.4, 3.2], [0, 0.8, 1.6, 2.4, 3.2]]
LEFT_YTICKS = [[0, 0.6, 1.2, 1.8], [0, 0.5, 1.0, 1.5, 2.0], [0, 0.4, 0.8, 1.2],
               [0, 5, 10, 15], [0, 0.4, 0.8, 1.2]]
RIGHT_XTICKS = [[0, 8, 16, 24, 32], [0, 3, 6, 9, 12], [0, 8, 16, 24, 32],
                [0, 5, 10, 15, 20, 25], [0, 6, 12, 18, 24, 30]]
RIGHT_YTICKS = [[0, 1, 2, 3], [0, 1.5, 3.0, 4.5], [0, 0.8, 1.6, 2.4],
                [0, 0.8, 1.6, 2.4], [0, 0.5, 1.0, 1.5]]

LEFT_DATA = [
    (MOS2L_EXP_X, MOS2L_EXP_Y, MOS2L_BSEP_X, MOS2L_BSEP_Y, MOS2L_BSE_X, MOS2L_BSE_Y, MOS2L_RPA_X, MOS2L_RPA_Y),
    (WSE2L_EXP_X, WSE2L_EXP_Y, WSE2L_BSEP_X, WSE2L_BSEP_Y, WSE2L_BSE_X, WSE2L_BSE_Y, WSE2L_RPA_X, WSE2L_RPA_Y),
    (WS2L_EXP_X, WS2L_EXP_Y, WS2L_BSEP_X, WS2L_BSEP_Y, WS2L_BSE_X, WS2L_BSE_Y, WS2L_RPA_X, WS2L_RPA_Y),
    (MOTE2L_EXP_X, MOTE2L_EXP_Y, MOTE2L_BSEP_X, MOTE2L_BSEP_Y, MOTE2L_BSE_X, MOTE2L_BSE_Y, MOTE2L_RPA_X, MOTE2L_RPA_Y),
    (MOSE2L_EXP_X, MOSE2L_EXP_Y, MOSE2L_BSEP_X, MOSE2L_BSEP_Y, MOSE2L_BSE_X, MOSE2L_BSE_Y, MOSE2L_RPA_X, MOSE2L_RPA_Y),
]
RIGHT_DATA = [
    (MOS2R_EXP_X, MOS2R_EXP_Y, MOS2R_BSEP_X, MOS2R_BSEP_Y, MOS2R_BSE_X, MOS2R_BSE_Y, MOS2R_RPA_X, MOS2R_RPA_Y),
    (WSE2R_EXP_X, WSE2R_EXP_Y, WSE2R_BSEP_X, WSE2R_BSEP_Y, WSE2R_BSE_X, WSE2R_BSE_Y, WSE2R_RPA_X, WSE2R_RPA_Y),
    (WS2R_EXP_X, WS2R_EXP_Y, WS2R_BSEP_X, WS2R_BSEP_Y, WS2R_BSE_X, WS2R_BSE_Y, WS2R_RPA_X, WS2R_RPA_Y),
    (MOTE2R_EXP_X, MOTE2R_EXP_Y, MOTE2R_BSEP_X, MOTE2R_BSEP_Y, MOTE2R_BSE_X, MOTE2R_BSE_Y, MOTE2R_RPA_X, MOTE2R_RPA_Y),
    (MOSE2R_EXP_X, MOSE2R_EXP_Y, MOSE2R_BSEP_X, MOSE2R_BSEP_Y, MOSE2R_BSE_X, MOSE2R_BSE_Y, MOSE2R_RPA_X, MOSE2R_RPA_Y),
]

C_BSEP = "orange"
C_BSE = "green"
C_RPA = "dodgerblue"
FS = 13

plt.rcParams["font.family"] = ["DejaVu Sans"]
plt.rcParams["mathtext.fontset"] = "dejavusans"

fig = plt.figure(figsize=(6.47, 14.87), dpi=100)
gs = fig.add_gridspec(5, 2, left=0.1425, right=0.963, top=0.958, bottom=0.0471,
                      hspace=0.318, wspace=0.25)


def draw(ax, data, dense=False):
    ex, ey, px, py, bx, by, rx, ry = data
    ax.plot(rx, ry, color=C_RPA, lw=1.5, zorder=2)
    ax.plot(bx, by, color=C_BSE, lw=1.5, zorder=3)
    ax.plot(px, py, color=C_BSEP, lw=1.5, zorder=4)
    if dense:
        ax.plot(ex, ey, color="black", lw=3.2, zorder=5)
    ax.plot(ex, ey, ls="none", marker="o", ms=2.6, color="black", zorder=6)


for i in range(5):
    axl = fig.add_subplot(gs[i, 0])
    draw(axl, LEFT_DATA[i])
    axl.set_xlim(0, LEFT_XLIM[i])
    axl.set_ylim(0, LEFT_YLIM[i])
    axl.set_xticks(LEFT_XTICKS[i])
    axl.set_yticks(LEFT_YTICKS[i])
    if i == 0:
        axl.set_xticklabels(["%d" % v for v in LEFT_XTICKS[i]])
    else:
        axl.set_xticklabels(["%.1f" % v for v in LEFT_XTICKS[i]])
    axl.set_yticklabels(["%.1f" % v for v in LEFT_YTICKS[i]])
    axl.tick_params(labelsize=FS)
    axl.text(0.04, 0.955, MATERIALS[i], transform=axl.transAxes, ha="left", va="top", fontsize=FS)
    if LEFT_Q[i] is not None:
        xr = 0.90 if i == 0 else 0.967
        axl.text(xr, 0.96, LEFT_Q[i], transform=axl.transAxes, ha="right", va="top",
                 fontsize=FS, color="gray")

    axr = fig.add_subplot(gs[i, 1])
    draw(axr, RIGHT_DATA[i], dense=(i == 2))
    axr.set_xlim(0, RIGHT_XLIM[i])
    axr.set_ylim(0, RIGHT_YLIM[i])
    axr.set_xticks(RIGHT_XTICKS[i])
    axr.set_yticks(RIGHT_YTICKS[i])
    axr.set_xticklabels(["%d" % v for v in RIGHT_XTICKS[i]])
    axr.set_yticklabels(["%.1f" % v for v in RIGHT_YTICKS[i]])
    axr.tick_params(labelsize=FS)
    axr.text(0.972, 0.96, RIGHT_Q[i], transform=axr.transAxes, ha="right", va="top",
             fontsize=FS, color="gray", multialignment="right", linespacing=1.05)

handles = [Line2D([], [], color=C_BSEP, lw=1.5),
           Line2D([], [], color=C_BSE, lw=1.5),
           Line2D([], [], color=C_RPA, lw=1.5),
           Line2D([], [], ls="none", marker="o", ms=2.6, color="black")]
fig.legend(handles, ["BSE+", "BSE", "RPA", "Exp."], loc="center", ncol=4,
           bbox_to_anchor=(0.541, 0.989), frameon=False, fontsize=FS,
           handlelength=2.2, columnspacing=2.1, handletextpad=0.9)

fig.text(0.034, 0.502, r"I$_{\mathrm{EELS}}$ [arb. units]", rotation=90,
         ha="center", va="center", fontsize=FS)
fig.text(0.541, 0.008, r"$\omega$ [eV]", ha="center", va="center", fontsize=FS)

fig.savefig("out.png", dpi=100)
